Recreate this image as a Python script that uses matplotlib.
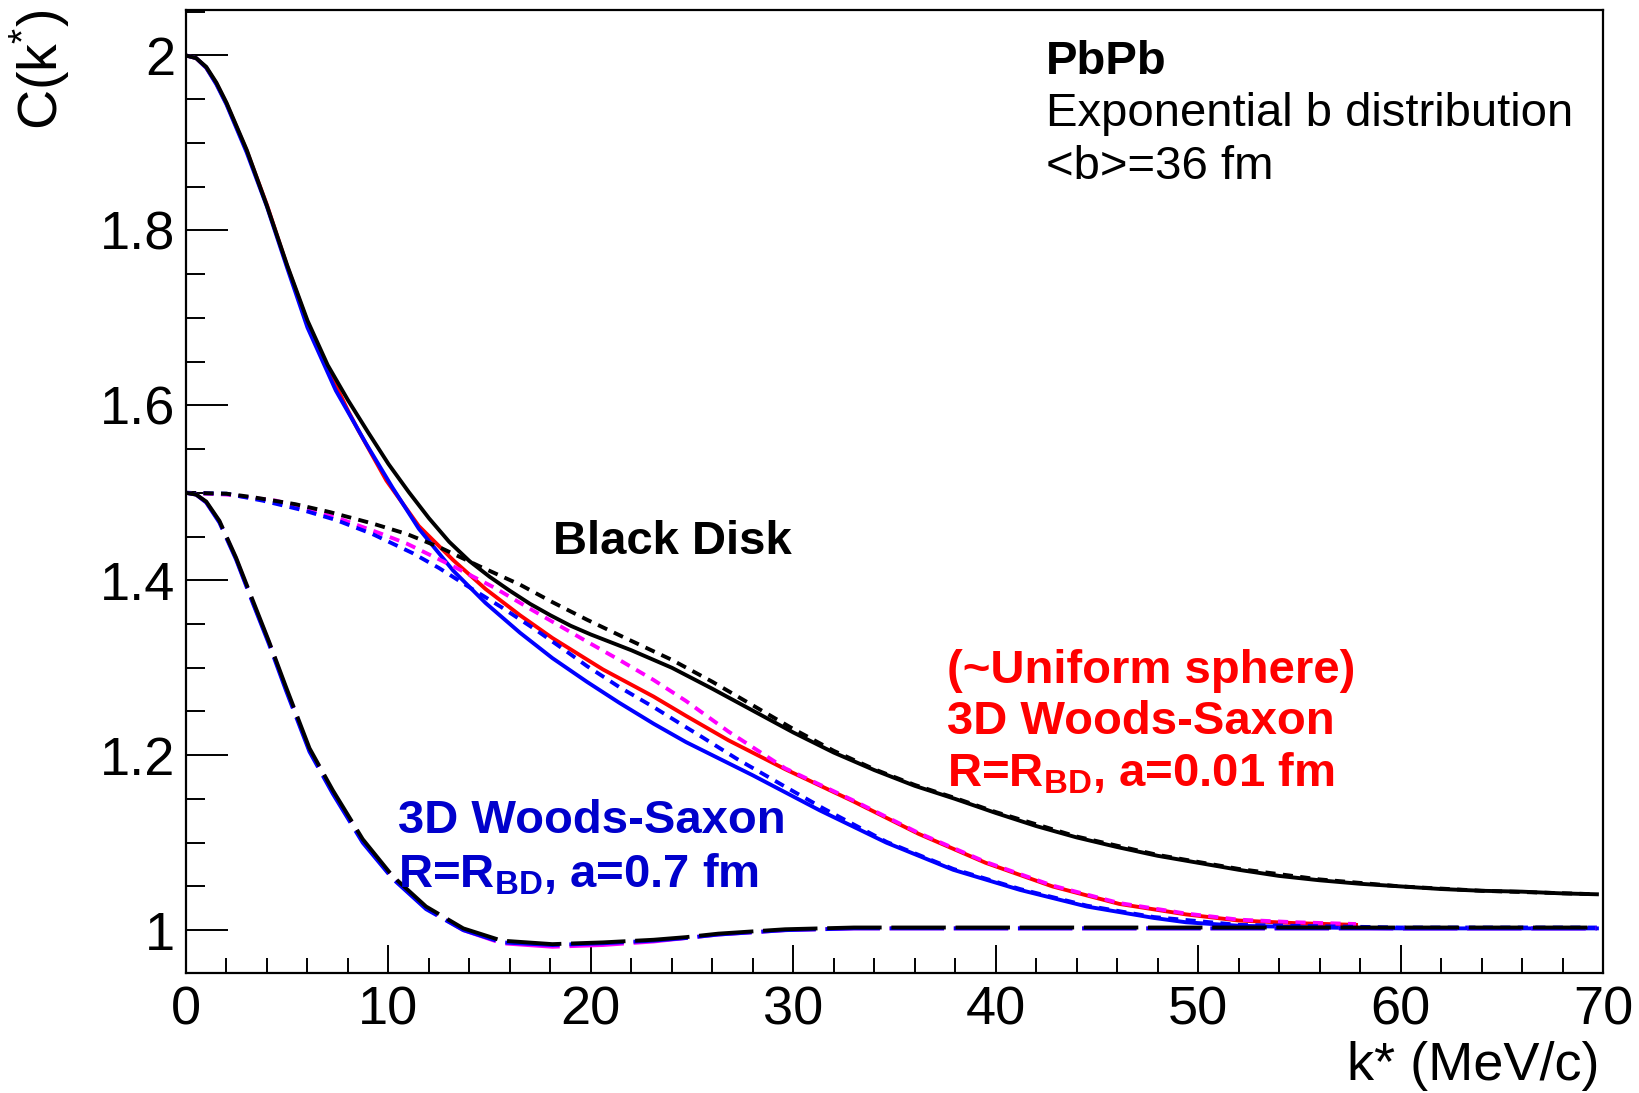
import numpy as np
import matplotlib
matplotlib.use("Agg")
import matplotlib.pyplot as plt
from matplotlib.ticker import MultipleLocator, FormatStrFormatter

plt.rcParams['font.family'] = ['Liberation Sans', 'DejaVu Sans']
plt.rcParams['mathtext.fontset'] = 'custom'
plt.rcParams['mathtext.rm'] = 'Liberation Sans'
plt.rcParams['mathtext.bf'] = 'Liberation Sans:bold'

# Black disk, solid
k_bd = [0, 0.5, 1, 1.5, 2, 3, 4, 5, 6, 7, 8, 9, 10, 11, 12, 13, 14, 15, 16, 17, 18,
        19, 20, 22, 24, 26, 28, 30, 32, 34, 36, 38, 40, 42, 44, 46, 48, 50, 52, 54,
        56, 58, 60, 62, 64, 66, 68, 69.7]
c_bd = [2.0, 1.997, 1.987, 1.969, 1.946, 1.892, 1.828, 1.760, 1.697, 1.646, 1.606,
        1.569, 1.533, 1.501, 1.471, 1.444, 1.422, 1.404, 1.388, 1.373, 1.360,
        1.348, 1.338, 1.320, 1.300, 1.276, 1.251, 1.226, 1.203, 1.183, 1.165,
        1.150, 1.134, 1.119, 1.106, 1.095, 1.085, 1.077, 1.069, 1.062, 1.057,
        1.053, 1.050, 1.047, 1.045, 1.044, 1.042, 1.041]

# Woods-Saxon a=0.01 fm, solid red
k_ws1 = [0, 0.5, 1, 1.5, 2, 3, 4, 5, 6, 7, 8, 8.5, 9.9, 11.5, 13.2, 14.8, 16.5,
         18.1, 20.6, 23.1, 24.7, 26.8, 29.6, 32.9, 36.2, 39.5, 42.8, 46.1, 49.4,
         52, 54.8, 57.8]
c_ws1 = [2.0, 1.997, 1.986, 1.968, 1.945, 1.891, 1.829, 1.759, 1.695, 1.642, 1.594,
         1.572, 1.514, 1.462, 1.423, 1.390, 1.360, 1.334, 1.298, 1.267, 1.245,
         1.217, 1.184, 1.148, 1.110, 1.077, 1.050, 1.030, 1.018, 1.011, 1.008, 1.006]

# Woods-Saxon a=0.7 fm, solid blue
k_ws7 = [0, 0.5, 1, 1.5, 2, 3, 4, 5, 6, 7.4, 8.9, 10.2, 11.5, 13.2, 14.8, 16.5,
         18.1, 19.8, 21.4, 23.1, 24.7, 28, 31.3, 34.6, 37.9, 41.2, 44.5, 47.8,
         49.4, 52, 56, 60, 65, 69.7]
c_ws7 = [2.0, 1.997, 1.986, 1.967, 1.944, 1.889, 1.827, 1.757, 1.689, 1.617, 1.556,
         1.506, 1.459, 1.411, 1.374, 1.340, 1.311, 1.284, 1.260, 1.236, 1.215,
         1.177, 1.137, 1.100, 1.069, 1.046, 1.027, 1.014, 1.009, 1.005, 1.003,
         1.002, 1.002, 1.002]

# dotted curves (start at 1.5)
k_bd_dot = [0, 2, 3.3, 5.4, 7.1, 9.2, 10.9, 12.5, 14.5, 16.5, 18.1, 19.8, 21.7, 24,
            26, 28, 30, 32, 34, 36, 38, 40, 44, 48, 52, 56, 60, 64, 69.7]
c_bd_dot = [1.5, 1.499, 1.495, 1.487, 1.478, 1.465, 1.453, 1.438, 1.416, 1.395,
            1.375, 1.355, 1.334, 1.309, 1.284, 1.257, 1.230, 1.205, 1.184, 1.166,
            1.151, 1.135, 1.107, 1.086, 1.070, 1.058, 1.050, 1.045, 1.041]

k_ws1_dot = [0, 2, 4.45, 7.4, 9.55, 10.9, 13.2, 15.2, 17.1, 18.9, 19.8, 21.4, 23.1,
             24.7, 26.8, 29.6, 32.9, 36.2, 39.5, 42.8, 46.1, 49.4, 52, 54.8, 57.8]
c_ws1_dot = [1.5, 1.498, 1.491, 1.472, 1.454, 1.442, 1.416, 1.392, 1.366, 1.342,
             1.330, 1.309, 1.286, 1.262, 1.227, 1.185, 1.149, 1.111, 1.078, 1.051,
             1.031, 1.019, 1.012, 1.009, 1.007]

k_ws7_dot = [0, 2, 3.8, 5.8, 7.4, 9.2, 11.2, 12.5, 14, 15.6, 17.3, 18.9, 19.8, 21.4,
             23.1, 24.7, 25.2, 27.2, 29.6, 31.5, 34.6, 37.9, 41.2, 44.5, 47.8, 52,
             60, 69.7]
c_ws7_dot = [1.5, 1.499, 1.491, 1.480, 1.469, 1.453, 1.431, 1.414, 1.392, 1.369,
             1.343, 1.317, 1.302, 1.278, 1.255, 1.232, 1.225, 1.196, 1.164, 1.139,
             1.101, 1.070, 1.047, 1.028, 1.015, 1.006, 1.003, 1.003]

# dashed curves (start at 1.5, dip below 1)
k_bd_dash = [0, 0.5, 1, 1.65, 2.47, 3.3, 4.1, 4.94, 6.1, 7.25, 8.73, 10.2, 11.86,
             13.7, 15.6, 18.1, 20.6, 23.1, 24.7, 26.3, 29.6, 33, 40, 50, 60, 69.7]
c_bd_dash = [1.5, 1.498, 1.490, 1.468, 1.426, 1.377, 1.330, 1.278, 1.208, 1.160,
             1.104, 1.062, 1.027, 1.002, 0.988, 0.984, 0.986, 0.989, 0.992, 0.996,
             1.001, 1.003, 1.003, 1.003, 1.003, 1.003]
c_ws7_dash = [1.5, 1.498, 1.489, 1.466, 1.424, 1.374, 1.327, 1.274, 1.204, 1.156,
              1.100, 1.059, 1.024, 1.000, 0.986, 0.983, 0.985, 0.988, 0.991, 0.995,
              1.000, 1.002, 1.002, 1.002, 1.002, 1.002]
c_ws1_dash = [1.5, 1.498, 1.489, 1.467, 1.425, 1.375, 1.329, 1.276, 1.206, 1.158,
              1.102, 1.060, 1.025, 1.000, 0.985, 0.981, 0.983, 0.987, 0.991, 0.995,
              1.000, 1.002, 1.002, 1.002, 1.002, 1.002]

x_ticks = [0, 10, 20, 30, 40, 50, 60, 70]
y_ticks = [1.0, 1.2, 1.4, 1.6, 1.8, 2.0]

fig = plt.figure(figsize=(16.4, 10.93), dpi=100)
ax = fig.add_axes([186/1640, 1 - 973/1093, (1603-186)/1640, (973-10)/1093])

lw = 2.8
dot = (2.6, 1.9)
dash = (14, 2.5)
ax.plot(k_ws1, c_ws1, color='#ff0000', lw=lw)
ax.plot(k_ws7, c_ws7, color='#0000ff', lw=lw)
ax.plot(k_ws1_dot, c_ws1_dot, color='#ff00ff', lw=lw, dashes=dot)
ax.plot(k_ws7_dot, c_ws7_dot, color='#0000ff', lw=lw, dashes=dot)
ax.plot(k_bd_dot, c_bd_dot, color='black', lw=lw, dashes=dot)
ax.plot(k_bd_dash, c_ws1_dash, color='#ff00ff', lw=lw, dashes=dash)
ax.plot(k_bd_dash, c_ws7_dash, color='#0000ff', lw=lw, dashes=dash)
ax.plot(k_bd_dash, c_bd_dash, color='black', lw=lw, dashes=dash)
ax.plot(k_bd, c_bd, color='black', lw=lw)

ax.set_xlim(0, 70)
ax.set_ylim(0.951, 2.052)
ax.xaxis.set_minor_locator(MultipleLocator(2))
ax.yaxis.set_minor_locator(MultipleLocator(0.05))
ax.set_xticks(x_ticks)
ax.set_yticks(y_ticks)
ax.yaxis.set_major_formatter(FormatStrFormatter('%g'))
ax.tick_params(axis='x', which='major', direction='in', length=20, width=1.4,
               labelsize=39, pad=9, top=False)
ax.tick_params(axis='x', which='minor', direction='in', length=11, width=1.4, top=False)
ax.tick_params(axis='y', which='major', direction='in', length=30, width=1.4,
               labelsize=39, pad=8, right=False)
ax.tick_params(axis='y', which='minor', direction='in', length=14, width=1.4, right=False)
for s in ax.spines.values():
    s.set_linewidth(1.6)

fig.text(40/1640, 1 - 10/1093, 'C(k$^{*}$)', rotation=90, ha='center', va='top',
         fontsize=40)
fig.text(1600/1640, 1 - 1080/1093, 'k* (MeV/c)', ha='right', va='baseline',
         fontsize=39)

ax.text(42.5, 1.979, 'PbPb', fontsize=34, fontweight='bold', va='baseline')
ax.text(42.5, 1.919, 'Exponential b distribution', fontsize=34, va='baseline')
ax.text(42.5, 1.859, '<b>=36 fm', fontsize=34, va='baseline')

ax.text(18.13, 1.430, 'Black Disk', fontsize=34, fontweight='bold', va='baseline')

red = '#ff0000'
ax.text(37.6, 1.283, '(~Uniform sphere)', fontsize=34, fontweight='bold',
        color=red, va='baseline')
ax.text(37.6, 1.224, '3D Woods-Saxon', fontsize=34, fontweight='bold',
        color=red, va='baseline')
ax.text(37.6, 1.164, r'R=R$_{\mathbf{BD}}$, a=0.01 fm', fontsize=34,
        fontweight='bold', color=red, va='baseline')

blue = '#0000cc'
ax.text(10.45, 1.111, '3D Woods-Saxon', fontsize=34, fontweight='bold',
        color=blue, va='baseline')
ax.text(10.45, 1.049, r'R=R$_{\mathbf{BD}}$, a=0.7 fm', fontsize=34,
        fontweight='bold', color=blue, va='baseline')

fig.savefig('out.png', dpi=100)
